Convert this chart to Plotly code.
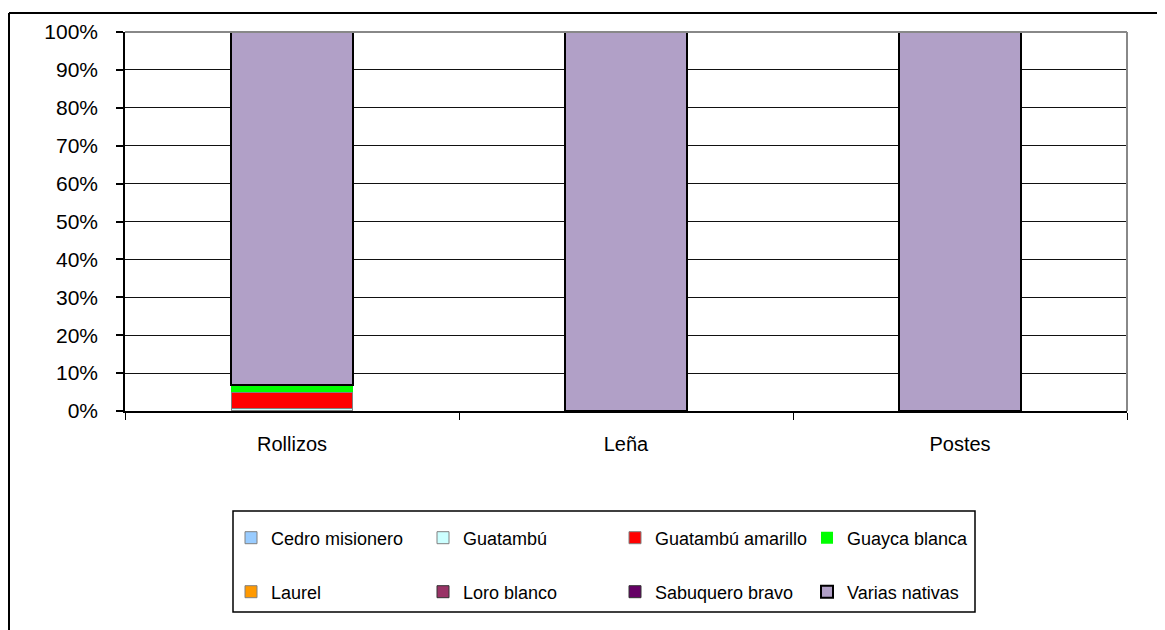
import plotly.graph_objects as go

categories = ["Rollizos", "Leña", "Postes"]
species = ["Cedro misionero", "Guatambú", "Guatambú amarillo", "Guayca blanca",
           "Laurel", "Loro blanco", "Sabuquero bravo", "Varias nativas"]
cedro_misionero   = [0.2, 0, 0]
guatambu          = [0.5, 0, 0]
guatambu_amarillo = [4.3, 0, 0]
guayca_blanca     = [1.6, 0, 0]
laurel            = [0.1, 0, 0]
loro_blanco       = [0.1, 0, 0]
sabuquero_bravo   = [0.1, 0, 0]
varias_nativas    = [93.1, 100, 100]
series = [cedro_misionero, guatambu, guatambu_amarillo, guayca_blanca,
          laurel, loro_blanco, sabuquero_bravo, varias_nativas]
tick_vals = [0, 10, 20, 30, 40, 50, 60, 70, 80, 90, 100]
tick_text = ["0%", "10%", "20%", "30%", "40%", "50%", "60%", "70%", "80%", "90%", "100%"]

colors = ["#99CCFF", "#CCFFFF", "#FF0000", "#00FF00", "#FF9900", "#993366", "#660066", "#B1A0C7"]
line_colors = ["#808080", "#808080", "#808080", "#00FF00", "#808080", "#333333", "#333333", "#000000"]
line_widths = [1, 1, 1, 0, 1, 1, 1, 2]

# geometry in reference-screen pixels; page body has an 8px margin
OFF = 8
SW, SH = 1165, 630
L, T = 125, 32          # plot left / top (screen px)
RX, BY = 1127, 411      # plot right / bottom (screen px)
W, H = SW - OFF, SH - OFF
pw, ph = RX - L, BY - T
def px(x):
    return (x - L) / pw
def py(y):
    return (BY - y) / ph

fig = go.Figure()
for i, s in enumerate(species):
    fig.add_trace(go.Bar(
        x=categories, y=series[i], name=s,
        marker=dict(color=colors[i], line=dict(color=line_colors[i], width=line_widths[i])),
        width=0.365,
        legend="legend" if i < 4 else "legend2",
    ))

font = "Liberation Sans, Arial, sans-serif"
leg_common = dict(orientation="h", xanchor="left", yanchor="middle",
                  font=dict(size=18), entrywidth=147, entrywidthmode="pixels",
                  bgcolor="rgba(0,0,0,0)", traceorder="normal")
fig.update_layout(
    width=W, height=H,
    margin=dict(l=L - OFF, r=SW - RX, t=T - OFF, b=SH - BY, pad=0),
    barmode="stack",
    plot_bgcolor="white", paper_bgcolor="white",
    font=dict(family=font, size=19, color="black"),
    showlegend=True,
    xaxis=dict(showline=True, linecolor="black", linewidth=1.5, ticks="outside",
               tickson="boundaries", ticklen=7, tickcolor="black",
               ticklabelstandoff=14, tickfont=dict(size=20), showgrid=False),
    yaxis=dict(range=[0, 100], tickmode="array", tickvals=tick_vals, ticktext=tick_text,
               showline=True, linecolor="black", linewidth=1.5, ticks="outside", ticklen=7,
               tickcolor="black", tickwidth=1.5, showgrid=True, gridcolor="#111111", gridwidth=1,
               ticklabelstandoff=14, tickfont=dict(size=21), zeroline=False),
    legend=dict(x=px(231), y=py(538), **leg_common),
    legend2=dict(x=px(231), y=py(592), **leg_common),
    shapes=[
        dict(type="line", xref="paper", yref="paper", x0=0, x1=1, y0=1, y1=1,
             line=dict(color="#888888", width=2)),
        dict(type="line", xref="paper", yref="paper", x0=1, x1=1, y0=0, y1=1,
             line=dict(color="#888888", width=2)),
        dict(type="line", xref="paper", yref="paper", x0=px(9), x1=px(1175), y0=py(13), y1=py(13),
             line=dict(color="black", width=2)),
        dict(type="line", xref="paper", yref="paper", x0=px(9), x1=px(9), y0=py(13), y1=py(640),
             line=dict(color="black", width=2)),
        dict(type="rect", xref="paper", yref="paper", x0=px(233), x1=px(975), y0=py(511), y1=py(612),
             line=dict(color="black", width=1.5), fillcolor="rgba(0,0,0,0)"),
    ],
)
fig.write_html("out.html")
